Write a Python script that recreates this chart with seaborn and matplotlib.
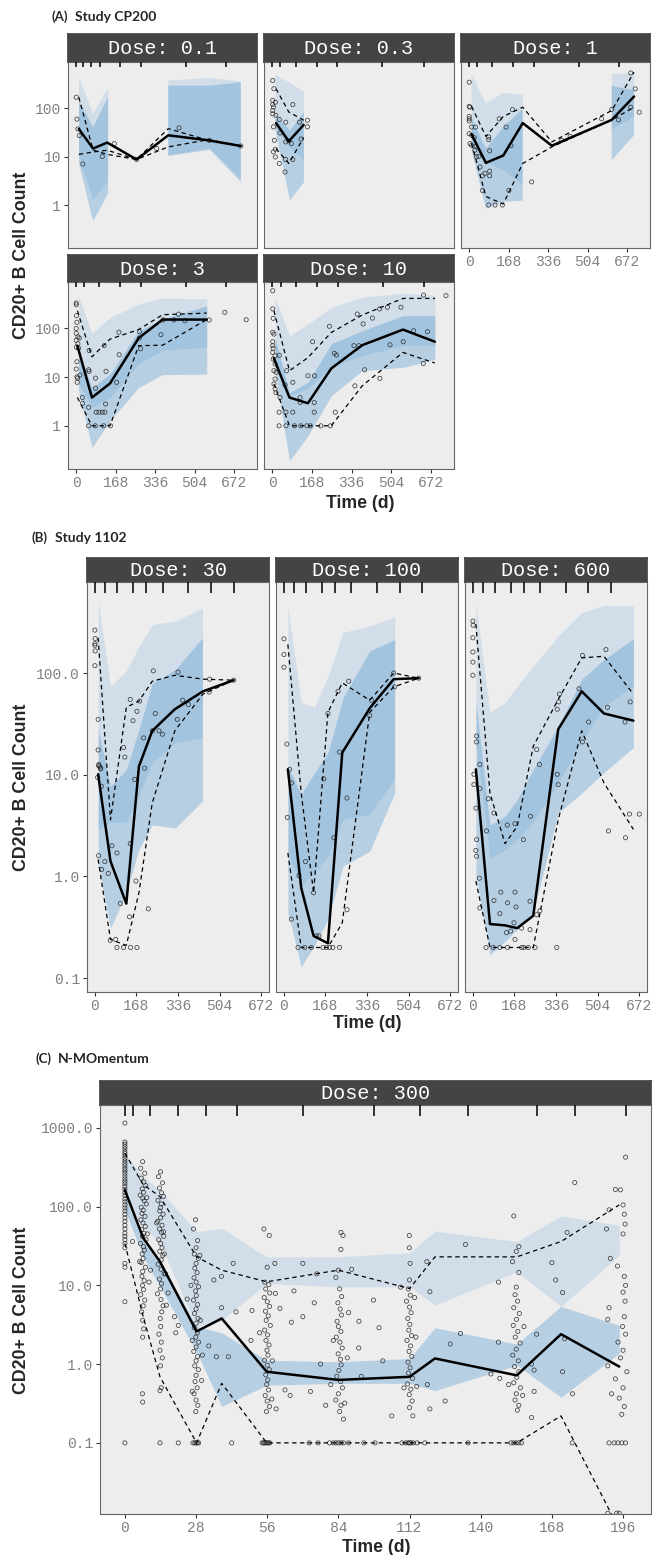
import numpy as np
import matplotlib
matplotlib.use("Agg")
import matplotlib.pyplot as plt
import matplotlib.ticker as mticker
import seaborn as sns

nan = float("nan")

# ---------------- (A) Study CP200 ----------------
# Dose 0.1
a1_obs_t = [0, 3, 7, 13, 28, 111, 162, 257, 343, 438, 567, 701]
a1_obs_v = [167, 59, 37, 27, 7, 10, 18.5, 8.7, 14.6, 39, 21.6, 16.5]
a1_t = [11, 72, 132, 257, 392, 563, 701]
a1_med = [37, 14.6, 19.4, 8.7, 27.4, 21.6, 16.5]
a1_p95 = [167, 13.5, 11.1, 8.7, 37.6, 21.6, 16.5]
a1_p05 = [11.1, 12.4, 13.5, 8.7, 15.8, 22.3, 16.5]
a1_band_t = [12, 72, 136, nan, 392, 570, 701]
a1_top = [434, 76, 261, nan, 370, 417, 354]
a1_hi = [143, 40.5, 167, nan, 290, 290, 339]
a1_lo = [9.8, 1.27, 3.0, nan, 10.6, 14.6, 3.3]
a1_bot = [7.2, 0.46, 1.74, nan, 10.2, 13.8, 3.0]
a1_bins = [0, 28, 64, 101, 187, 277, 467, 640]

# Dose 0.3
a2_obs_t = [2, 7, 2, 13, 5, 2, 15, 5, 9, 13, 5, 13, 30, 54, 30, 57, 87, 57, 81, 87,
            115, 149, 149, 122, 70, 57, 33, 2, 2]
a2_obs_v = [370, 250, 144, 132, 105, 76, 71, 41, 21.6, 14.1, 12.5, 9.8, 7.2, 4.8, 58,
            51, 118, 20, 18.5, 8.7, 51, 56, 41, 23, 21, 8.7, 30.7, 89, 118]
a2_t = [16, 70, 133]
a2_med = [49, 20.6, 45]
a2_p95 = [250, 83, 56]
a2_p05 = [14.6, 7.2, 24.6]
a2_band_t = [11.5, 73, 132]
a2_top = [505, 336, 222]
a2_hi = [76, 35, 83]
a2_lo = [40, 15.8, 8.4]
a2_bot = [35, 1.27, 3.0]
a2_bins = [0, 33, 101, 189, 276, 467, 642]

# Dose 1
a3_obs_t = [0, 0, 3, 0, 0, 0, 10, 27, 0, 10, 3, 10, 21, 29, 24, 31, 41, 46, 56, 67,
            83, 83, 87, 87, 87, 56, 83, 110, 141, 128, 157, 184, 178, 169, 266, 394,
            430, 564, 607, 636, 688, 707, 724, 688]
a3_obs_v = [341, 108, 104, 67, 60, 54, 40.5, 40.5, 29.6, 27.4, 18.5, 17.1, 24.5, 16.3,
            13.5, 9.8, 10.1, 6.1, 4.0, 4.5, 25.3, 22.3, 13.1, 5.0, 4.0, 2.0, 1.0, 1.0,
            1.0, 60, 40.5, 93, 16.8, 2.0, 3.0, 21.7, 26, 60, 94, 57, 528, 249, 82, 104]
a3_t = [10, 71, 145, 228, 352, 607, 702]
a3_med = [28.7, 7.4, 10.5, 49, 16.7, 57, 173]
a3_p95 = [108, 26, 67, 104, 20, 89, 548]
a3_p05 = [18.5, 1.5, 1.05, 7.2, 15.8, 57, 104]
a3_band_t = [10, 71, 145, 228, nan, 607, 702]
a3_top = [502, 126, 203, 190, nan, 505, 528]
a3_hi = [65, 14.6, 40.5, 97, nan, 290, 230]
a3_lo = [15.8, 7.8, 5.2, 2.6, nan, 35, 65]
a3_bot = [13.5, 0.85, 1.17, 1.23, nan, 8.4, 27.4]
a3_bins = [0, 33, 99, 187, 276, 467, 638]

# Dose 3
a4_obs_t = [0, 0, 1, 3, 0, 0, 7, 13, 0, 7, 1, 10, 3, 0, 3, 6, 16, 4, 26, 27,
            53, 55, 53, 55, 53, 82, 85, 97, 111, 122, 81, 117, 146, 82, 125, 127, 119,
            182, 183, 172, 269, 269, 274, 361, 370, 436, 463, 566, 633, 724, 416]
a4_obs_v = [330, 303, 182, 133, 99, 79, 67, 63, 57, 48, 41, 39, 20.6, 14.6, 10.1, 9.5,
            11, 7.8, 3.8, 2.9, 14.1, 13.1, 2.4, 35, 1.0, 9.5, 1.9, 1.9, 1.9, 1.9, 1.0,
            1.0, 1.0, 5.9, 2.8, 13.1, 44, 83, 28.7, 7.8, 85, 63, 38, 74, 148, 195, 143,
            148, 213, 150, 148]
a4_t = [5, 67, 144, 266, 368, 556]
a4_med = [44, 3.8, 7.4, 63, 151, 151]
a4_p95 = [229, 26, 60, 94, 190, 205]
a4_p05 = [3.8, 1.0, 1.0, 44, 45, 151]
a4_band_t = [10, 67, 144, 266, 368, 556]
a4_top = [455, 79, 167, 315, 418, 400]
a4_hi = [35, 6.1, 11.5, 89, 155, 290]
a4_lo = [7.2, 2.4, 3.8, 18.5, 35, 40.5]
a4_bot = [5.2, 0.36, 1.27, 6.1, 11.2, 11.5]
a4_bins = [0, 34, 98, 188, 277, 467, 640]

# Dose 10
a5_obs_t = [2, 2, 4, 2, 7, 2, 2, 4, 2, 12, 30, 4, 12, 7, 16, 12, 7, 12, 16, 33,
            54, 61, 87, 58, 87, 29, 29, 58, 94, 121, 147, 161, 206, 246, 118, 118, 151,
            171, 179, 178, 178, 242, 263, 272, 267, 360, 346, 367, 385, 391, 350, 424,
            456, 455, 488, 499, 545, 555, 599, 640, 658, 641, 736]
a5_obs_v = [590, 250, 160, 83, 76, 53, 44, 39, 32, 27.4, 28, 23.4, 18.5, 13.5, 12.5, 9.1,
            7.2, 5.7, 4.8, 3.8, 6.9, 13.5, 7.8, 1.9, 1.9, 1.9, 1.0, 1.0, 1.0, 1.0, 1.0,
            1.0, 1.0, 1.0, 3.8, 3.0, 10.6, 53, 10.6, 3.0, 1.9, 110, 30.7, 28.3, 1.9, 196,
            44, 44, 123, 14.1, 6.6, 162, 9.4, 250, 270, 46, 270, 53, 89, 19, 85, 480, 467]
a5_t = [7, 73, 151, 250, 381, 554, 689]
a5_med = [24, 3.8, 2.9, 15, 45, 94, 53]
a5_p95 = [229, 13.5, 25, 82, 187, 410, 410]
a5_p05 = [7.2, 1.0, 1.0, 1.0, 6.6, 32, 19.4]
a5_band_t = [12, 73, 151, 250, 381, 554, 689]
a5_top = [434, 70, 122, 270, 434, 524, 480]
a5_hi = [65, 4.8, 7.8, 48, 89, 182, 182]
a5_lo = [17, 4.1, 5.7, 15.8, 27.4, 44, 44]
a5_bot = [12.5, 0.19, 0.62, 4.1, 13.5, 15.8, 23]
a5_bins = [0, 36, 101, 190, 279, 468, 643]

# ---------------- (B) Study 1102 ----------------
# Dose 30
b1_obs_t = [0, 1, 0, 0, 1, 0, 13, 13, 16, 15, 19, 22, 24, 11, 26, 15, 27, 40, 54, 69,
            89, 103, 116, 121, 143, 154, 161, 166, 170, 140, 143, 181, 197, 201, 216,
            236, 244, 232, 259, 273, 336, 333, 355, 378, 464, 462, 561, 84, 89, 116,
            144, 170, 62]
b1_obs_v = [264, 218, 194, 187, 165, 118, 35, 17.5, 12.6, 12.3, 12, 11.4, 11.6, 9.4, 7.7,
            1.6, 1.17, 1.4, 1.07, 2.0, 1.7, 0.54, 18.5, 14.9, 55, 34, 9.0, 0.9, 42, 0.40,
            2.1, 53, 23, 11.6, 0.48, 105, 40, 27, 27, 25, 102, 35, 54, 49, 87, 65, 85,
            0.24, 0.2, 0.2, 0.2, 0.2, 0.235]
b1_t = [13, 63, 127, 178, 232, 323, 437, 561]
b1_med = [10.1, 1.41, 0.54, 12.1, 27, 44, 66, 85]
b1_p95 = [222, 3.6, 46, 53, 83, 95, 87, 85]
b1_p05 = [1.47, 0.24, 0.21, 0.69, 5.3, 27, 62, 85]
b1_band_t = [13, 63, 127, 178, 232, 326, 435]
b1_top = [510, 74, 105, 183, 300, 324, 437]
b1_hi = [28, 7.7, 11.2, 28, 79, 109, 222]
b1_lo = [2.9, 3.4, 3.4, 6.2, 13, 20.6, 23]
b1_bot = [1.36, 0.31, 0.69, 1.84, 3.2, 3.0, 5.5]
b1_bins = [0, 42, 90, 155, 206, 274, 378, 468, 561]

# Dose 100
b2_obs_t = [0, 0, 0, 12, 23, 30, 14, 87, 61, 30, 57, 84, 111, 131, 142, 158, 172, 185,
            198, 225, 120, 161, 178, 202, 219, 225, 255, 262, 255, 347, 354, 444, 448, 545]
b2_obs_v = [217, 152, 114, 20, 11.3, 8.3, 3.8, 1.4, 1.02, 0.38, 0.2, 0.2, 0.2, 0.26, 0.26,
            0.2, 0.2, 0.2, 0.2, 0.2, 0.69, 9.1, 40, 2.4, 66, 16.7, 5.9, 83, 0.47, 38, 54,
            100, 73, 89]
b2_t = [16, 70, 120, 178, 236, 347, 444, 545]
b2_med = [11.3, 0.77, 0.26, 0.22, 16.5, 45, 87, 89]
b2_p95 = [191, 6.6, 0.69, 41, 80, 54, 100, 89]
b2_p05 = [1.7, 0.2, 0.2, 0.2, 0.35, 41, 73, 89]
b2_band_t = [16, 70, 124, 178, 239, 347, 448]
b2_top = [456, 51, 46, 93, 250, 290, 355]
b2_hi = [12.2, 6.4, 10.5, 16.4, 57, 165, 214]
b2_lo = [1.7, 0.80, 1.09, 1.58, 3.6, 4.1, 9.0]
b2_bot = [0.44, 0.13, 0.21, 0.38, 1.26, 1.77, 6.6]
b2_bins = [0, 40, 91, 154, 205, 273, 376, 468, 560]

# Dose 600
b3_obs_t = [0, 1, 0, 0, 0, 0, 15, 15, 28, 4, 4, 28, 12, 15, 12, 15, 26, 28, 55, 62,
            85, 85, 109, 113, 140, 139, 170, 170, 174, 166, 136, 153, 197, 204, 231, 233,
            231, 258, 269, 271, 258, 341, 345, 341, 347, 350, 429, 443, 443, 468, 538,
            544, 548, 615, 617, 633, 636, 673, 53, 82, 109, 140, 197, 206, 224, 251, 339,
            170]
b3_obs_v = [324, 295, 222, 161, 128, 95, 24, 21, 12.6, 10.1, 8.0, 7.3, 4.7, 2.3, 1.8,
            1.58, 0.96, 0.49, 2.8, 5.8, 4.2, 0.58, 0.43, 0.70, 0.55, 3.2, 3.3, 0.70, 0.50,
            0.35, 0.28, 0.29, 0.31, 2.3, 0.57, 3.9, 0.30, 0.42, 12.6, 0.46, 17.7, 10.1,
            8.0, 44, 52, 62, 70, 149, 21, 33, 170, 46, 2.8, 33, 2.4, 4.1, 52, 4.1, 0.2,
            0.2, 0.2, 0.2, 0.2, 0.2, 0.2, 0.2, 0.2, 0.24]
b3_t = [12, 69, 130, 179, 244, 345, 440, 530, 649]
b3_med = [11.3, 0.34, 0.33, 0.31, 0.41, 28, 66, 40, 34]
b3_p95 = [302, 6.6, 2.1, 3.1, 19, 55, 141, 146, 62]
b3_p05 = [0.9, 0.2, 0.2, 0.2, 0.2, 3.6, 27, 8.3, 2.9]
b3_band_t = [12, 69, 130, 179, 244, 345, 440, 530, 649]
b3_top = [470, 41, 51, 74, 117, 231, 392, 460, 455]
b3_hi = [53, 3.2, 3.9, 5.7, 11.3, 30, 87, 136, 217]
b3_lo = [20, 1.5, 1.8, 2.3, 3.4, 8.3, 20.6, 47, 74]
b3_bot = [1.0, 0.17, 0.23, 0.30, 0.44, 4.2, 6.6, 10.5, 18.5]
b3_bins = [0, 40, 91, 153, 206, 272, 377, 466, 560]

# ---------------- (C) N-MOmentum, dose 300 ----------------
c_v0_t = [0, 0, 0, 0, 0, 0, 0, 0, 0, 0, 0, 0, 0, 0, 0, 0, 0, 0, 0, 0, 0,
          0, 0, 0, 0, 0, 0, 0, 0, 0, 0, 0, 0, 0, 0, 0, 0, 0, 0, 0, 0, 0]
c_v0_v = [1150, 660, 620, 580, 540, 500, 470, 440, 410, 380, 355, 330, 305, 285, 265,
          245, 225, 210, 195, 180, 165, 150, 138, 125, 115, 105, 96, 88, 80, 72, 65, 58,
          52, 46, 42, 38, 34, 30, 19, 17, 6.2, 0.1]
c_v7_t = [7.0, 6.2, 7.8, 6.5, 7.4, 8.2, 6.8, 7.3, 6.0, 7.0, 7.6, 8.4, 6.4, 7.2, 6.7, 7.9,
          6.3, 7.1, 8.0, 6.6, 7.5, 6.9, 8.3, 6.1, 7.3, 7.7, 6.8, 7.2, 6.4, 8.1, 7.0, 6.7,
          7.6, 6.9, 7.3, 6.2, 7.8, 7.2, 6.6, 7.0, 7.4, 7.0, 6.9, 7.0, 3.0, 10.1, 9.5, 8.6,
          8.8, 5.8]
c_v7_v = [372, 307, 265, 230, 205, 185, 168, 152, 140, 128, 118, 108, 98, 90, 82, 75, 68,
          62, 56, 51, 46, 42, 38, 34, 31, 28, 25, 22, 19.5, 17, 15, 13, 11.5, 10, 8.8, 7.6,
          6.5, 5.5, 4.6, 3.6, 2.8, 2.2, 0.42, 0.33, 36, 15.6, 11, 130, 45, 20]
c_v14_t = [14.0, 13.2, 14.8, 13.6, 14.4, 15.2, 13.0, 14.3, 14.0, 13.7, 15.0, 14.0, 12.9,
           14.6, 13.6, 14.4, 15.3, 13.3, 14.1, 14.6, 13.7, 14.9, 14.3, 13.1, 14.2, 15.4,
           13.6, 14.4, 14.0, 12.8, 14.2, 15.0, 14.5, 13.9, 14.1, 13.4, 14.3, 13.8, 14.7,
           14.0, 14.3, 13.8, 16.0, 15.5, 15.2, 16.3, 12.5, 13.8]
c_v14_v = [277, 240, 200, 172, 150, 135, 120, 108, 97, 88, 80, 72, 65, 58, 52, 47, 42, 38,
           34, 30, 27, 24, 21, 18.5, 16, 14, 12, 10.5, 9, 7.8, 6.6, 5.5, 4.6, 3.8, 3.0, 2.4,
           1.9, 1.5, 1.2, 0.95, 0.5, 0.46, 14, 25, 48, 5.6, 62, 0.1]
c_v28_t = [27.8, 27.0, 28.6, 28.0, 27.3, 28.9, 28.0, 27.5, 28.4, 27.2, 28.0, 29.0, 27.8,
           28.1, 27.0, 28.6, 28.0, 27.4, 28.8, 28.0, 27.3, 28.5, 27.9, 29.0, 28.0, 27.1,
           28.6, 28.0, 27.5, 28.9, 28.0, 27.6, 28.4, 27.2, 28.0, 28.7, 27.9, 26.8, 27.5,
           28.0, 28.5, 29.0, 29.7, 30.2, 26.5, 30.5, 26.0, 29.5, 26.5]
c_v28_v = [68, 52, 37, 30, 25, 22, 19, 16.5, 14.5, 12.5, 11, 9.6, 8.5, 7.4, 6.5, 5.7, 5.0,
           4.4, 3.8, 3.3, 2.9, 2.5, 2.2, 1.9, 1.65, 1.45, 1.25, 1.1, 0.95, 0.85, 0.72, 0.6,
           0.5, 0.42, 0.35, 0.3, 0.25, 0.1, 0.1, 0.1, 0.1, 0.1, 3.6, 0.62, 2.0, 1.3, 10, 24,
           0.45]
c_s1_t = [21.0, 20.0, 24.5, 35.0, 38.0, 38.0, 42.6, 43.7, 40.7, 36.0, 49.6, 50.0, 42.0,
          21.0, 17.0, 19.5, 33.0]
c_s1_v = [3.1, 2.5, 6.7, 11.7, 13.0, 5.2, 19.0, 4.6, 1.24, 1.24, 2.0, 4.8, 0.1, 0.1, 8.0,
          4.0, 1.7]
c_v56_t = [54.7, 56.8, 56.0, 55.0, 56.6, 55.4, 57.0, 54.8, 56.0, 56.9, 55.3, 56.4, 55.6,
           57.2, 55.0, 56.1, 55.5, 56.7, 55.9, 56.3, 54.9, 56.0, 56.8, 55.4, 56.2, 55.8,
           56.5, 55.2, 56.0, 56.9, 55.7, 54.0, 54.5, 55.0, 55.5, 56.0, 56.5, 57.0, 59.0,
           59.2, 61.0, 63.0, 65.0, 53.0, 58.0, 57.8, 59.5]
c_v56_v = [52, 43, 17, 11, 10.2, 9.0, 8.0, 7.0, 6.2, 5.4, 4.7, 4.1, 3.6, 3.1, 2.7, 2.35,
           2.0, 1.75, 1.5, 1.3, 1.12, 0.97, 0.85, 0.73, 0.63, 0.55, 0.47, 0.4, 0.34, 0.29,
           0.25, 0.1, 0.1, 0.1, 0.1, 0.1, 0.1, 0.1, 19, 7.9, 5.1, 0.47, 0.4, 2.5, 1.1,
           0.36, 0.27]
c_s2_t = [66.5, 70.0, 70.0, 74.5, 75.5, 73.0, 77.0, 72.5, 76.0, 65.5, 79.0]
c_s2_v = [8.5, 19, 4.0, 6.0, 14, 0.45, 1.0, 0.1, 0.1, 3.4, 0.3]
c_v84_t = [85.0, 85.8, 85.0, 84.0, 83.0, 84.5, 85.3, 83.8, 84.7, 85.2, 83.5, 84.0, 85.0,
           83.2, 84.6, 85.5, 83.9, 84.8, 85.1, 84.2, 83.4, 84.9, 85.6, 84.0, 83.0, 85.0,
           84.5, 86.0, 80.5, 82.0, 83.0, 84.0, 85.0, 86.0, 88.0, 89.2, 88.0, 87.5, 86.5,
           81.0, 82.0]
c_v84_v = [47, 43, 28.6, 15.6, 12.6, 9.0, 7.2, 6.0, 5.0, 4.2, 3.5, 3.0, 2.6, 2.2, 1.9, 1.6,
           1.35, 1.15, 0.98, 0.83, 0.7, 0.6, 0.5, 0.42, 0.35, 0.3, 0.25, 0.2, 0.1, 0.1,
           0.1, 0.1, 0.1, 0.1, 0.1, 16, 4.5, 1.2, 0.32, 0.55, 2.0]
c_s3_t = [92.1, 97.8, 100.0, 92.0, 98.4, 105.0, 93.0, 101.5, 94.0]
c_s3_v = [3.5, 6.5, 2.9, 1.6, 0.1, 0.22, 0.7, 1.1, 0.1]
c_v112_t = [111.9, 111.9, 112.2, 112.0, 111.5, 112.3, 110.8, 112.0, 112.6, 111.3, 112.1,
            111.7, 112.8, 111.0, 112.4, 111.8, 112.9, 111.4, 112.2, 111.6, 113.2, 111.2,
            112.5, 111.9, 113.0, 112.0, 113.3, 109.0, 110.5, 111.5, 112.0, 112.5, 113.5,
            115.0, 114.5, 114.8, 108.5, 109.8, 114.0]
c_v112_v = [43, 30, 19, 11.7, 9.0, 7.5, 6.3, 5.3, 4.5, 3.8, 3.2, 2.7, 2.3, 2.0, 1.7, 1.45,
            1.25, 1.06, 0.9, 0.77, 0.66, 0.56, 0.48, 0.41, 0.34, 0.28, 0.22, 0.1, 0.1, 0.1,
            0.1, 0.1, 0.1, 0.1, 2.2, 0.52, 9.5, 0.5, 7.0]
c_s4_t = [118.8, 120.0, 119.0, 120.0, 126.0, 128.0, 132.0, 134.0, 135.0, 118.0, 144.0,
          147.0, 147.0, 147.5]
c_s4_v = [20, 8.3, 0.55, 0.27, 0.34, 1.8, 2.45, 33, 0.1, 0.1, 0.75, 11, 1.9, 0.66]
c_v154_t = [153.0, 155.0, 154.0, 152.5, 155.0, 154.0, 153.5, 154.5, 153.0, 155.2, 154.1,
            152.8, 154.6, 153.6, 155.5, 154.0, 152.6, 154.8, 153.3, 155.0, 154.2, 153.0,
            155.6, 154.0, 153.5, 155.0, 154.4, 152.0, 153.0, 154.0, 155.0, 156.0, 151.0,
            156.5, 157.0]
c_v154_v = [76, 31, 27, 20, 14.6, 9.5, 7.6, 6.3, 5.2, 4.4, 3.7, 3.1, 2.6, 2.2, 1.85, 1.55,
            1.3, 1.1, 0.93, 0.8, 0.68, 0.58, 0.5, 0.42, 0.35, 0.3, 0.26, 0.1, 0.1, 0.1,
            0.1, 0.1, 0.55, 0.4, 3.0]
c_s5_t = [162.0, 161.0, 161.0, 160.0, 168.0, 169.5, 172.2, 173.0, 172.2, 176.1, 177.0,
          174.0, 176.0, 160.0]
c_s5_v = [2.4, 0.84, 0.45, 0.21, 19.4, 11.7, 8.1, 2.1, 0.8, 0.42, 202, 47, 0.1, 1.0]
c_v196_t = [197.0, 193.0, 195.0, 196.0, 190.5, 189.5, 196.5, 196.8, 196.0, 191.0, 193.8,
            196.5, 197.0, 196.0, 196.8, 190.5, 190.0, 196.5, 195.8, 197.0, 194.0, 196.0,
            195.0, 190.0, 197.5, 193.0, 196.0, 191.5, 194.5, 196.5, 195.5, 190.5, 192.5,
            194.0, 195.5, 197.0, 190.0, 193.5, 194.5]
c_v196_v = [424, 165, 163, 105, 91, 52, 80, 60, 45, 22, 17.6, 13, 10, 8.2, 6.3, 5.2, 3.7,
            4.0, 3.0, 2.4, 1.9, 1.5, 1.2, 0.95, 0.8, 0.65, 0.5, 0.42, 0.37, 0.29, 0.23, 0.1,
            0.1, 0.1, 0.1, 0.1, 0.0128, 0.0128, 0.0128]

c_t = [0, 7.2, 13.8, 28.2, 38.1, 55.8, 84, 112, 122, 154.2, 171.6, 194.5]
c_med = [162, 40, 20, 2.6, 3.8, 0.80, 0.63, 0.69, 1.18, 0.72, 2.4, 0.93]
c_p95 = [477, 190, 134, 23, 15.6, 11.1, 15.6, 9.1, 23, 23, 36, 105]
c_p05 = [34, 4.0, 0.69, 0.1, 0.57, 0.1, 0.1, 0.1, 0.1, 0.1, 0.22, 0.008]
c_up_top = [475, 240, 162, 48, 53, 23, 23, 26, 49, 36, 76, 58]
c_up_bot = [121, 56, 34, 3.0, 3.6, 10.6, 9.6, 9.6, 5.6, 14.9, 5.4, 24]
c_med_top = [134, 38, 21, 3.0, 2.5, 1.12, 1.07, 1.18, 2.9, 1.8, 5.4, 3.1]
c_med_bot = [91, 23, 9.6, 1.43, 0.29, 0.54, 0.57, 0.57, 0.46, 0.97, 0.38, 1.37]
c_bins = [0, 3, 10, 21, 32, 44, 70, 98, 116, 135, 162, 177, 197]

# ---------------- styling ----------------
W, H = 653, 1555
BLUE = "#3388cc"
MONO = "Liberation Mono"

sns.set_theme(style="white")
plt.rcParams["font.family"] = ["Liberation Sans", "DejaVu Sans"]

fig = plt.figure(figsize=(W / 100, H / 100), dpi=100)


def px_axes(left, top, right, bottom):
    return fig.add_axes([left / W, 1 - bottom / H, (right - left) / W, (bottom - top) / H])


def strip(left, top, right, bottom, label):
    s = px_axes(left, top, right, bottom)
    s.set_facecolor("#444444")
    s.set_xticks([])
    s.set_yticks([])
    for sp in s.spines.values():
        sp.set_color("#444444")
    s.text(0.5, 0.47, label, ha="center", va="center", color="white", family=MONO,
           fontsize=14.5, transform=s.transAxes)


def panel(obs_t, obs_v, t, med, p05, p95, band_t, layers, bins):
    return dict(obs_t=obs_t, obs_v=obs_v, t=t, med=med, p05=p05, p95=p95,
                band_t=band_t, layers=layers, bins=bins)


def ab(obs_t, obs_v, t, med, p05, p95, band_t, top, hi, lo, bot, bins):
    layers = [(hi, top, 0.15), (lo, hi, 0.40), (bot, lo, 0.29)]
    return panel(obs_t, obs_v, t, med, p05, p95, band_t, layers, bins)


def draw(ax, p, xlim, ylim, xticks, yticks, ylabels, show_x, show_y):
    ax.set_facecolor("#EDEDED")
    ax.set_yscale("log")
    bt = np.array(p["band_t"], float)
    for lo, hi, a in p["layers"]:
        ax.fill_between(bt, np.array(lo, float), np.array(hi, float),
                        color=BLUE, alpha=a, lw=0)
    sns.scatterplot(x=p["obs_t"], y=p["obs_v"], ax=ax, s=9, marker="o",
                    edgecolor="#222222", linewidth=0.55, alpha=0.85, zorder=3)
    ax.collections[-1].set_facecolor("none")
    for vals, lw, ls in [(p["p05"], 0.9, (0, (3.5, 2.8))),
                         (p["p95"], 0.9, (0, (3.5, 2.8))),
                         (p["med"], 1.8, "-")]:
        sns.lineplot(x=p["t"], y=vals, ax=ax, color="black", lw=lw, linestyle=ls,
                     estimator=None, sort=False, zorder=4)
    ax.vlines(p["bins"], 0.972, 1.0, transform=ax.get_xaxis_transform(),
              color="black", lw=1.1, zorder=5)
    ax.set_xlim(*xlim)
    ax.set_ylim(*ylim)
    ax.yaxis.set_minor_locator(mticker.NullLocator())
    ax.set_xticks(xticks, labels=[str(x) for x in xticks])
    ax.set_yticks(yticks, labels=ylabels)
    ax.tick_params(axis="both", length=3, width=0.8, color="#333333", pad=2,
                   labelcolor="#808080", labelsize=10.5)
    ax.tick_params(axis="x", bottom=show_x, labelbottom=show_x)
    ax.tick_params(axis="y", left=show_y, labelleft=show_y)
    for lab in ax.get_xticklabels() + ax.get_yticklabels():
        lab.set_fontfamily(MONO)
    for sp in ax.spines.values():
        sp.set_color("#666666")
        sp.set_linewidth(0.8)
    ax.set_xlabel("")
    ax.set_ylabel("")


def title(x1, x2, y, tag, text):
    fig.text(x1 / W, 1 - y / H, tag, family=["Lato", "DejaVu Sans"], weight="bold",
             fontsize=9.5, va="center")
    fig.text(x2 / W, 1 - y / H, text, family=["Lato", "DejaVu Sans"], weight="bold",
             fontsize=10, va="center")


def axis_labels(ylab_y, xlab_x, xlab_y):
    fig.text(22 / W, 1 - ylab_y / H, "CD20+ B Cell Count", rotation=90, ha="center",
             va="center", fontsize=12.8, weight="bold")
    fig.text(xlab_x / W, 1 - xlab_y / H, "Time (d)", ha="center", va="center",
             fontsize=12.7, weight="bold")


# ---------------- (A) ----------------
a_panels = [
    ("Dose: 0.1", ab(a1_obs_t, a1_obs_v, a1_t, a1_med, a1_p05, a1_p95, a1_band_t,
                     a1_top, a1_hi, a1_lo, a1_bot, a1_bins), 0, 0, False, True),
    ("Dose: 0.3", ab(a2_obs_t, a2_obs_v, a2_t, a2_med, a2_p05, a2_p95, a2_band_t,
                     a2_top, a2_hi, a2_lo, a2_bot, a2_bins), 0, 1, False, False),
    ("Dose: 1", ab(a3_obs_t, a3_obs_v, a3_t, a3_med, a3_p05, a3_p95, a3_band_t,
                   a3_top, a3_hi, a3_lo, a3_bot, a3_bins), 0, 2, True, False),
    ("Dose: 3", ab(a4_obs_t, a4_obs_v, a4_t, a4_med, a4_p05, a4_p95, a4_band_t,
                   a4_top, a4_hi, a4_lo, a4_bot, a4_bins), 1, 0, True, True),
    ("Dose: 10", ab(a5_obs_t, a5_obs_v, a5_t, a5_med, a5_p05, a5_p95, a5_band_t,
                    a5_top, a5_hi, a5_lo, a5_bot, a5_bins), 1, 1, True, False),
]
a_cols = [(68, 257), (264, 454), (461, 650)]
a_rows = [(34, 62, 248), (255, 282, 469)]
for label, p, r, c, sx, sy in a_panels:
    l, rr = a_cols[c]
    st, pt, pb = a_rows[r]
    strip(l, st, rr, pt, label)
    ax = px_axes(l, pt, rr, pb)
    draw(ax, p, (-35, 770), (0.13, 890), [0, 168, 336, 504, 672],
         [1, 10, 100], ["1", "10", "100"], sx, sy)
title(52, 75, 17, "(A)", "Study CP200")
axis_labels(255, 360, 503)

# ---------------- (B) ----------------
b_panels = [
    ("Dose: 30", ab(b1_obs_t, b1_obs_v, b1_t, b1_med, b1_p05, b1_p95, b1_band_t,
                    b1_top, b1_hi, b1_lo, b1_bot, b1_bins), True),
    ("Dose: 100", ab(b2_obs_t, b2_obs_v, b2_t, b2_med, b2_p05, b2_p95, b2_band_t,
                     b2_top, b2_hi, b2_lo, b2_bot, b2_bins), False),
    ("Dose: 600", ab(b3_obs_t, b3_obs_v, b3_t, b3_med, b3_p05, b3_p95, b3_band_t,
                     b3_top, b3_hi, b3_lo, b3_bot, b3_bins), False),
]
b_cols = [(87, 269), (276, 458), (465, 647)]
for (label, p, sy), (l, rr) in zip(b_panels, b_cols):
    strip(l, 558, rr, 582, label)
    ax = px_axes(l, 582, rr, 992)
    draw(ax, p, (-32, 704), (0.073, 785), [0, 168, 336, 504, 672],
         [0.1, 1, 10, 100], ["0.1", "1.0", "10.0", "100.0"], True, sy)
title(32, 55, 538, "(B)", "Study 1102")
axis_labels(787, 367, 1024)

# ---------------- (C) ----------------
c_obs_t = (c_v0_t + c_v7_t + c_v14_t + c_v28_t + c_s1_t + c_v56_t + c_s2_t + c_v84_t
           + c_s3_t + c_v112_t + c_s4_t + c_v154_t + c_s5_t + c_v196_t)
c_obs_v = (c_v0_v + c_v7_v + c_v14_v + c_v28_v + c_s1_v + c_v56_v + c_s2_v + c_v84_v
           + c_s3_v + c_v112_v + c_s4_v + c_v154_v + c_s5_v + c_v196_v)
c_layers = [(c_up_bot, c_up_top, 0.15), (c_med_bot, c_med_top, 0.29)]
pc = panel(c_obs_t, c_obs_v, c_t, c_med, c_p05, c_p95, c_t, c_layers, c_bins)
strip(100, 1081, 651, 1105, "Dose: 300")
ax = px_axes(100, 1105, 651, 1514)
draw(ax, pc, (-9.8, 207), (0.0125, 1950), [0, 28, 56, 84, 112, 140, 168, 196],
     [0.1, 1, 10, 100, 1000], ["0.1", "1.0", "10.0", "100.0", "1000.0"], True, True)
title(35, 58, 1059, "(C)", "N-MOmentum")
axis_labels(1310, 376, 1547)

fig.savefig("out.png", dpi=100, facecolor="white")
